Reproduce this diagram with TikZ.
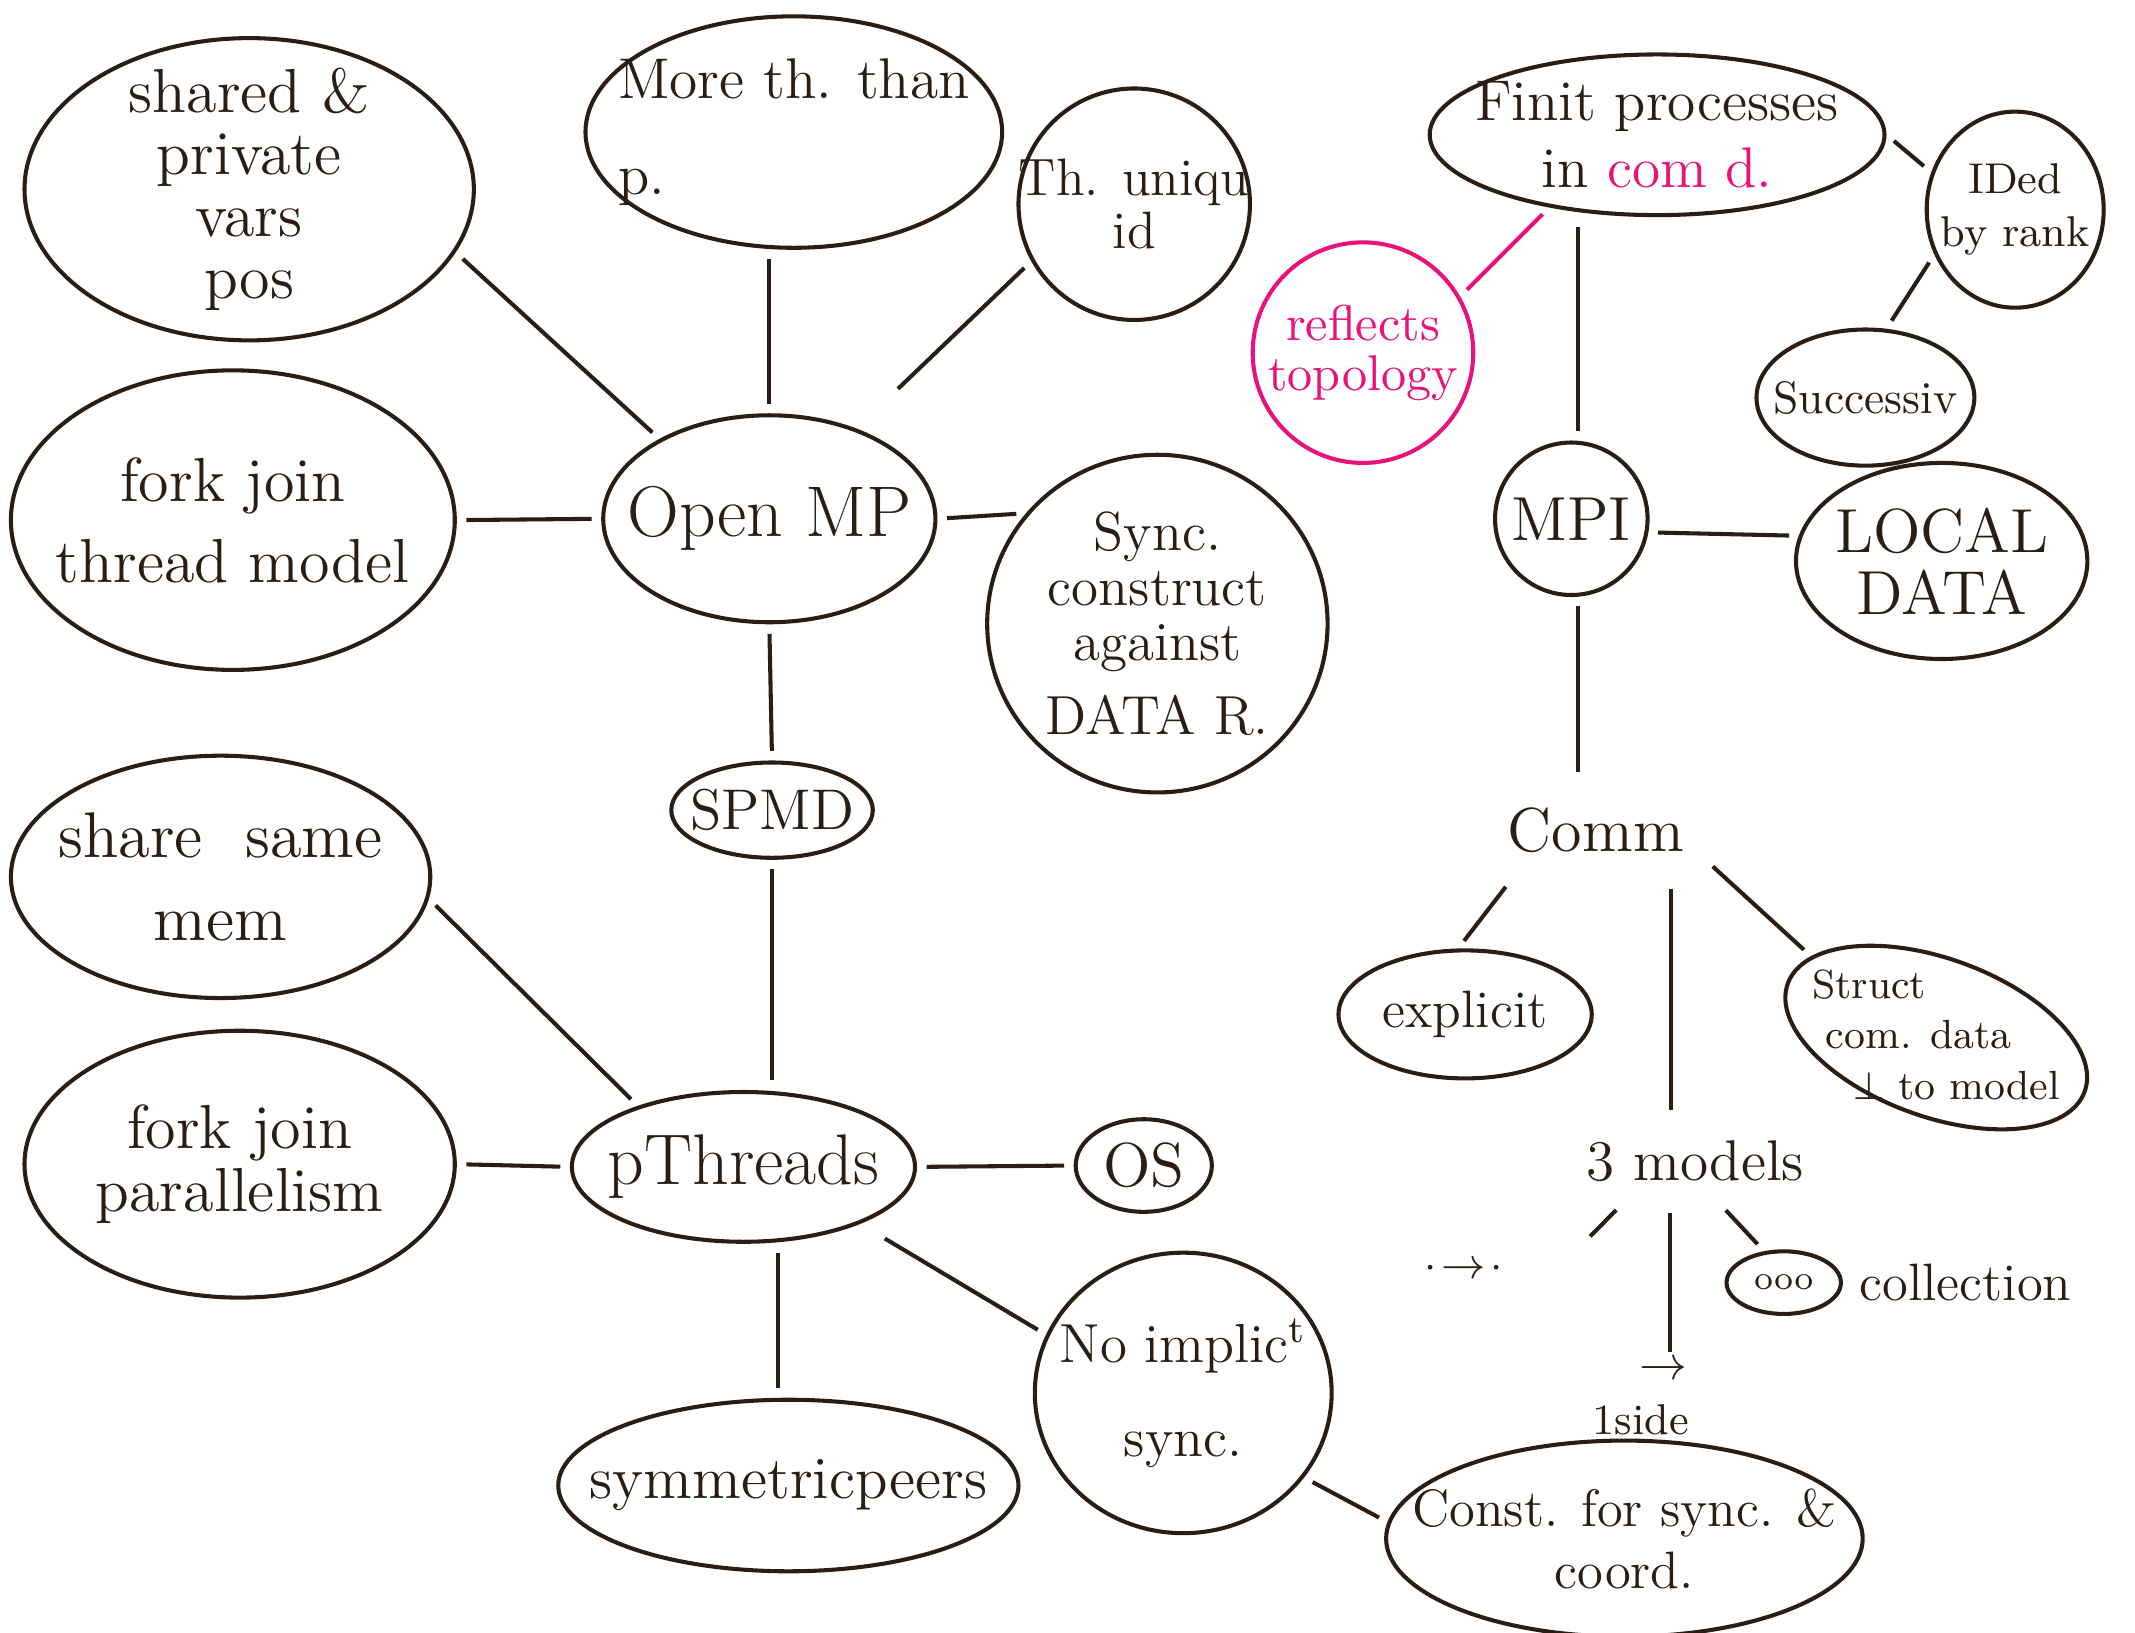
\documentclass[tikz,border=0pt]{standalone}
\usepackage{amsmath,amssymb}
\usepackage{tikz}
\usetikzlibrary{shapes.geometric}
\definecolor{ink}{HTML}{2A1E14}
\definecolor{hotpink}{HTML}{E8127A}

\begin{document}
\begin{tikzpicture}[
  bubble/.style={draw=ink,line width=0.85pt,ellipse,inner sep=0pt},
  word/.style={inner sep=0pt,align=center,text=ink},
  link/.style={draw=ink,line width=0.85pt,shorten <=2pt,shorten >=2pt},
  fs/.style={font=\fontsize{#1}{#1}\selectfont}
]
\useasboundingbox (0,0) rectangle (15.68,-11.99);
\fill[white] (0,0) rectangle (15.68,-11.99);
\node[bubble,minimum width=3.30cm,minimum height=2.22cm,label={[word,fs=13]center:{shared \&\\ private\\ vars\\ pos}}] (shared) at (1.83,-1.39) {};
\node[bubble,minimum width=3.06cm,minimum height=1.70cm,label={[word,fs=12,align=left]center:{More th. than\\[8pt] p.}}] (more) at (5.83,-0.97) {};
\node[bubble,minimum width=1.70cm,minimum height=1.70cm,label={[word,fs=11]center:{Th. uniqu\\ id}}] (uniq) at (8.33,-1.50) {};
\node[bubble,minimum width=3.26cm,minimum height=2.20cm,label={[word,fs=13]center:{fork join\\[4pt] thread model}}] (forkt) at (1.71,-3.82) {};
\node[bubble,minimum width=2.44cm,minimum height=1.52cm,label={[word,fs=15]center:{Open MP}}] (omp) at (5.65,-3.81) {};
\node[bubble,minimum width=2.50cm,minimum height=2.48cm,label={[word,fs=11.5]center:{Sync.\\ construct\\ against\\[4pt] DATA R.}}] (syncd) at (8.50,-4.58) {};
\node[bubble,minimum width=1.48cm,minimum height=0.70cm,label={[word,fs=12]center:{SPMD}}] (spmd) at (5.67,-5.95) {};
\node[bubble,minimum width=3.08cm,minimum height=1.78cm,label={[word,fs=13.5]center:{share\ \ same\\[4pt] mem}}] (samemem) at (1.62,-6.44) {};
\node[bubble,minimum width=3.16cm,minimum height=1.96cm,label={[word,fs=13]center:{fork join\\ parallelism}}] (forkp) at (1.76,-8.55) {};
\node[bubble,minimum width=2.52cm,minimum height=1.10cm,label={[word,fs=15]center:{pThreads}}] (pthr) at (5.46,-8.57) {};
\node[bubble,minimum width=1.00cm,minimum height=0.68cm,label={[word,fs=13]center:{OS}}] (os) at (8.40,-8.56) {};
\node[bubble,minimum width=3.38cm,minimum height=1.26cm,label={[word,fs=12.5]center:{symmetricpeers}}] (sym) at (5.79,-10.91) {};
\node[bubble,minimum width=2.18cm,minimum height=2.06cm,label={[word,fs=11.5]center:{No implic\textsuperscript{t}\\[8pt] sync.}}] (noimp) at (8.69,-10.23) {};
\node[bubble,minimum width=3.50cm,minimum height=1.44cm,label={[word,fs=11]center:{Const. for sync. \&\\[2pt] coord.}}] (const) at (11.93,-11.30) {};
\node[bubble,minimum width=3.34cm,minimum height=1.18cm,label={[word,fs=12]center:{Finit processes\\[2pt] in \textcolor{hotpink}{com d.}}}] (finit) at (12.17,-0.99) {};
\node[bubble,draw=hotpink,minimum width=1.62cm,minimum height=1.62cm,label={[word,text=hotpink,fs=10.5]center:{reflects\\ topology}}] (topo) at (10.01,-2.59) {};
\node[bubble,minimum width=1.30cm,minimum height=1.44cm,label={[word,fs=9]center:{IDed\\[2pt] by rank}}] (ided) at (14.80,-1.54) {};
\node[bubble,minimum width=1.60cm,minimum height=1.00cm,label={[word,fs=9.5]center:{Successiv}}] (succ) at (13.70,-2.92) {};
\node[bubble,minimum width=1.12cm,minimum height=1.12cm,label={[word,fs=13]center:{MPI}}] (mpi) at (11.54,-3.81) {};
\node[bubble,minimum width=2.14cm,minimum height=1.44cm,label={[word,fs=13]center:{LOCAL\\ DATA}}] (local) at (14.26,-4.12) {};
\node[word,minimum width=1.6cm,minimum height=0.7cm,fs=13] (comm) at (11.72,-6.10) {Comm};
\node[bubble,minimum width=1.86cm,minimum height=0.94cm,label={[word,fs=11]center:{explicit}}] (expl) at (10.76,-7.45) {};
\node[bubble,rotate=-20,minimum width=2.32cm,minimum height=1.16cm] (structb) at (14.22,-7.62) {};
\node[word,fs=8.5,align=left] (struct) at (14.22,-7.60) {Struct\\[2pt] \hspace{1mm}com. data\\[2pt] \hspace{3mm}$\perp$ to model};
\node[word,minimum width=1.5cm,minimum height=0.6cm,fs=12] (models) at (12.45,-8.53) {3 models};
\node[bubble,minimum width=0.84cm,minimum height=0.46cm,label={[word,fs=7]center:{ooo}}] (coll) at (13.10,-9.42) {};
\node[word,fs=11,anchor=west] (colltxt) at (13.65,-9.42) {collection};
\node[word,fs=9] (dots) at (10.75,-9.32) {$\cdot\!\rightarrow\!\cdot$};
\node[word,fs=10] (arr) at (12.22,-10.07) {$\rightarrow$};
\node[word,fs=9] (side) at (12.05,-10.43) {1side};
\coordinate (mleft) at (11.63,-9.13);
\draw[link] (shared.-17) -- (omp.144);
\draw[link] (omp.north |- more.south) -- (omp.north);
\draw[link,shorten >=12pt] (uniq.209) -- (omp.46);
\draw[link] (forkt.east) -- (omp.west);
\draw[link] (omp.east) -- (syncd.140);
\draw[link] (omp.south) -- (spmd.north);
\draw[link] (spmd.south) -- (spmd.south |- pthr.north);
\draw[link] (samemem.-6) -- (pthr.150);
\draw[link] (forkp.east) -- (pthr.west);
\draw[link] (pthr.east) -- (os.west);
\draw[link,shorten <=6pt] (pthr.-26) -- (noimp.157);
\draw[link] (sym.97 |- pthr.south) -- (sym.97);
\draw[link] (noimp.-35) -- (const.176);
\draw[link] (finit.east) -- (ided.156);
\draw[link] (ided.209) -- (succ.73);
\draw[link,draw=hotpink] (finit.214) -- (topo.30);
\draw[link] (mpi.85 |- finit.south) -- (mpi.85);
\draw[link] (mpi.-10) -- (local.170);
\draw[link] (mpi.-85) -- (mpi.-85 |- comm.north);
\draw[link] (comm.-150) -- (expl.96);
\draw[link] (comm.-33) -- (comm.-33 |- models.north);
\draw[link] (comm.-15) -- (structb.167);
\draw[link] (models.-150) -- (mleft);
\draw[link] (models.-121) -- (models.-121 |- arr.north);
\draw[link] (models.-60) -- (coll.122);
\end{tikzpicture}
\end{document}
